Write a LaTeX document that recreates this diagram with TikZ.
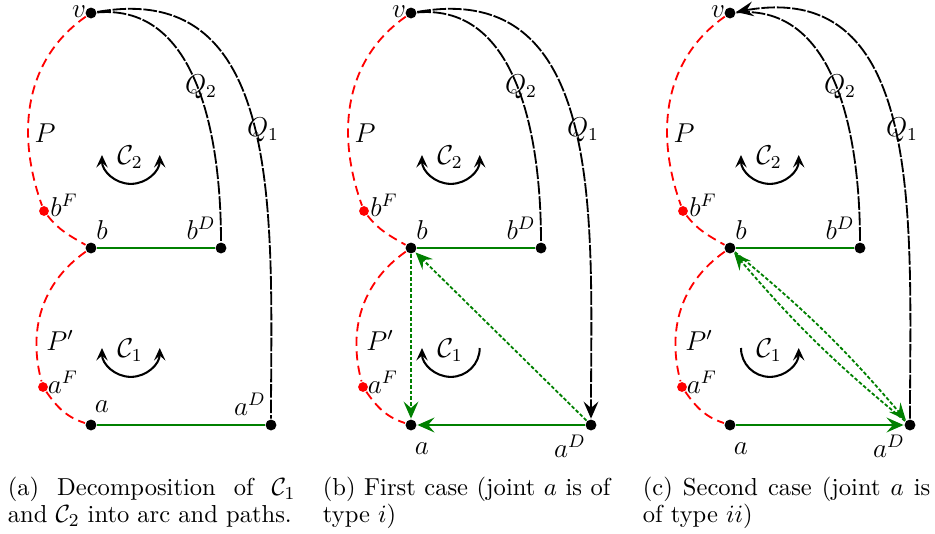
\documentclass[tikz,border=0pt]{standalone}
\usetikzlibrary{arrows.meta, positioning}
\definecolor{cgreen}{HTML}{008000}
\tikzset{
  every picture/.style={line width=0.8pt},
  dot/.style={circle, fill=black, inner sep=0pt, minimum size=4.8pt},
  rdot/.style={circle, fill=red, inner sep=0pt, minimum size=4.3pt},
  ppath/.style={red, line width=0.8pt, dash pattern=on 4pt off 2.4pt},
  qpath/.style={black, line width=0.8pt, dash pattern=on 6pt off 0.8pt},
  arcedge/.style={cgreen, line width=1.2pt},
  newedge/.style={cgreen, line width=0.8pt, dash pattern=on 1.6pt off 0.9pt},
  turn/.style={line width=0.9pt, >={Stealth[length=5.5pt, width=5pt, inset=2.2pt]}},
  lbl/.style={font=\fontsize{11.5}{13}\selectfont, inner sep=0pt},
  captext/.style={font=\fontsize{10.8}{11.9}\selectfont, text width=126.5pt, align=justify, inner sep=0pt, anchor=north west},
}

\begin{document}
\begin{tikzpicture}[x=0.44pt, y=-0.44pt, >={Stealth[length=7.5pt, width=6.5pt, inset=2.8pt]}]
  \useasboundingbox (0,0) rectangle (935,533);
  % ---- what the three panels share
  \foreach \p/\sx/\qtip/\gtip/\ttip/\ay/\aDy in {a/0/-/-/<->/407/404, b/320/->/<-/<-/449/446, c/639/<-/->/->/449/446} {
    \begin{scope}[shift={(\sx,0)}]
      \node[dot] (v\p) at (91,13) {};
      \node[dot] (b\p) at (91,248) {};
      \node[dot] (bD\p) at (221,248) {};
      \node[dot] (a\p) at (91,425) {};
      \node[dot] (aD\p) at (271,425) {};
      \node[rdot] (bF\p) at (44,211) {};
      \node[rdot] (aF\p) at (43,387) {};
      \draw[ppath] (v\p) to[out=215, in=110] (bF\p) to[out=-52, in=150] (b\p);
      \draw[ppath] (b\p) to[out=215, in=105] (aF\p) to[out=-55, in=162] (a\p);
      \draw[qpath] (v\p) to[out=5, in=90] (bD\p);
      \draw[qpath, \qtip] (v\p) to[out=10, in=90, looseness=1.12] (aD\p);
      \draw[arcedge] (b\p) -- (bD\p);
      \draw[arcedge, \gtip] (a\p) -- (aD\p);
      \draw[turn, <->] (102,155) arc[start angle=180, end angle=360, radius=12.7pt];
      \draw[turn, \ttip] (102,348) arc[start angle=180, end angle=360, radius=12.7pt];
      \node[lbl] (lv\p) at (79,12) {$v$};
      \node[lbl] (lQ2\p) at (201,87) {$Q_2$};
      \node[lbl] (lQ1\p) at (263,130) {$Q_1$};
      \node[lbl] (lP\p) at (45,133) {$P$};
      \node[lbl] (lC2\p) at (130,157) {$\mathcal{C}_2$};
      \node[lbl] (lbF\p) at (64,205) {$b^F$};
      \node[lbl] (lb\p) at (102,230) {$b$};
      \node[lbl] (lbD\p) at (201,228) {$b^D$};
      \node[lbl] (lPp\p) at (60,340) {$P'$};
      \node[lbl] (lC1\p) at (130,350) {$\mathcal{C}_1$};
      \node[lbl] (laF\p) at (63,382) {$a^F$};
      \node[lbl] (la\p) at (102,\ay) {$a$};
      \node[lbl] (laD\p) at (250,\aDy) {$a^D$};
    \end{scope}
  }
  % ---- new arcs in (b) and (c)
  \draw[newedge, ->] (bb) -- (ab);
  \draw[newedge, ->] (aDb) -- (bb);
  \draw[newedge, ->] (bc) to[bend left=5] (aDc);
  \draw[newedge, ->] (aDc) to[bend left=5] (bc);
  % ---- captions
  \node[captext] (capa) at (7,476) {(a) Decomposition of $\mathcal{C}_1$\linebreak and $\mathcal{C}_2$ into arc and paths.};
  \node[captext] (capb) at (322,476) {(b) First case (joint $a$ is of\linebreak type $i$)};
  \node[captext] (capc) at (642,476) {(c) Second case (joint $a$ is\linebreak of type $ii$)};
\end{tikzpicture}
\end{document}
